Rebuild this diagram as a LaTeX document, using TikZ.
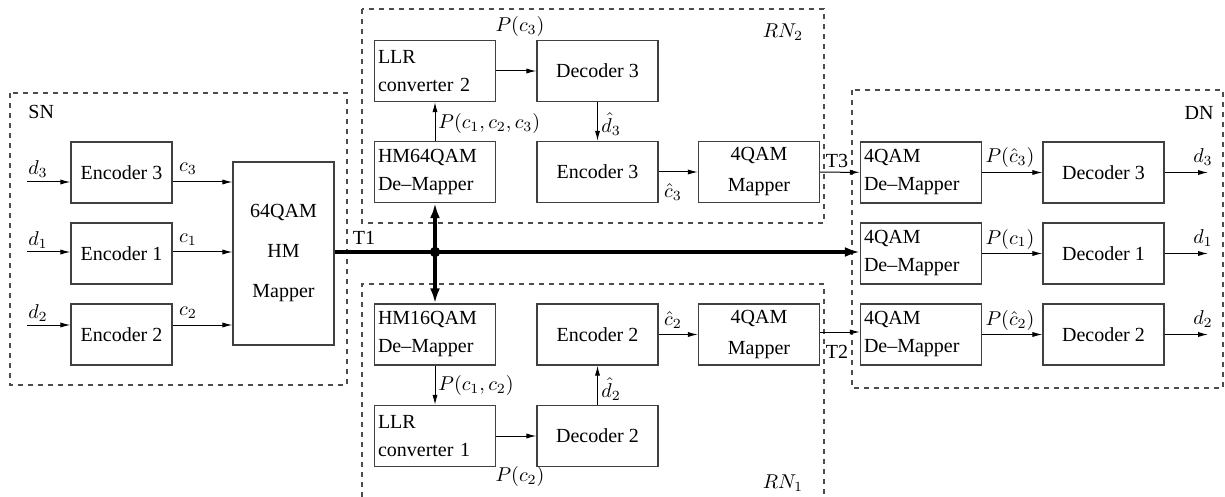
\documentclass[tikz,border=0pt]{standalone}
\usepackage[no-math]{fontspec}
\setmainfont{Liberation Serif}
\usetikzlibrary{arrows.meta}
\begin{document}
\begin{tikzpicture}[x=0.5pt,y=-0.5pt,
 box/.style={draw=black!75, line width=0.7pt, minimum width=60.5pt, minimum height=30.5pt, inner sep=0pt, font=\rmfamily\fontsize{10}{14}\selectfont},
 lbox/.style={box, align=left, text width=57pt},
 cbox/.style={box, align=center},
 encbox/.style={cbox, minimum width=50.5pt},
 mapbox/.style={cbox, font=\rmfamily\fontsize{10}{15.5}\selectfont},
 region/.style={draw=black!70, dash pattern=on 2.5pt off 2.5pt, line width=0.55pt},
 sig/.style={-{Latex[length=5pt,width=2.6pt]}, line width=0.5pt},
 main/.style={line width=1.6pt},
 mainarr/.style={main, -{Latex[length=7.5pt,width=5pt]}},
 lab/.style={font=\rmfamily\fontsize{10}{12}\selectfont, inner sep=0.5pt},
]
\useasboundingbox (0,0) rectangle (1225,497);

% ---------- SN ----------
\draw[region] (10,93) rectangle (347,385);
\node[lab, anchor=west] (snlab) at (27,112) {SN};
\node[encbox] (enc3) at (121.5,172.5) {Encoder 3};
\node[encbox] (enc1) at (121.5,253.5) {Encoder 1};
\node[encbox] (enc2) at (121.5,334.5) {Encoder 2};
\node[cbox, minimum width=50.5pt, minimum height=91.5pt, font=\rmfamily\fontsize{10}{20}\selectfont] (map64) at (283.5,253.5) {64QAM\\HM\\Mapper};
\coordinate (d3in) at (27,182);
\coordinate (d1in) at (27,252);
\coordinate (d2in) at (27,325);
\draw[sig] (d3in) -- (d3in -| enc3.west);
\draw[sig] (d1in) -- (d1in -| enc1.west);
\draw[sig] (d2in) -- (d2in -| enc2.west);
\draw[sig] (enc3.east |- d3in) -- (map64.west |- d3in);
\draw[sig] (enc1.east |- d1in) -- (map64.west |- d1in);
\draw[sig] (enc2.east |- d2in) -- (map64.west |- d2in);
\node[lab] (ld3) at (38,169) {$d_3$};
\node[lab] (ld1) at (38,240) {$d_1$};
\node[lab] (ld2) at (38,313) {$d_2$};
\node[lab] (lc3) at (188,169) {$c_3$};
\node[lab] (lc1) at (188,240) {$c_1$};
\node[lab] (lc2) at (188,313) {$c_2$};

% ---------- RN2 ----------
\draw[region] (362,9) rectangle (824,223);
\node[lab] (rn2lab) at (783,32) {$RN_2$};
\node[lbox] (llr2) at (435,71) {LLR\\converter 2};
\node[cbox] (dec3) at (597.5,71) {Decoder 3};
\node[lbox] (hm64) at (435,172) {HM64QAM\\De\textendash Mapper};
\node[cbox] (enc3r) at (597.5,172) {Encoder 3};
\node[mapbox] (map4a) at (759,172) {4QAM\\Mapper};
\draw[sig] (llr2) -- (dec3);
\draw[sig] (hm64) -- (llr2);
\draw[sig] (dec3) -- (enc3r);
\draw[sig] (enc3r) -- (map4a);
\node[lab] (lpc3) at (520,27) {$P(c_3)$};
\node[lab, anchor=west] (lpc123) at (437,124) {$P(c_1,c_2,c_3)$};
\node[lab, anchor=west] (ldh3) at (600,124) {$\hat{d}_3$};
\node[lab] (lch3) at (673,192) {$\hat{c}_3$};

% ---------- RN1 ----------
\draw[region] (362,497) |- (824,284) -- (824,497);
\node[lab] (rn1lab) at (783,483) {$RN_1$};
\node[lbox] (hm16) at (435,334.5) {HM16QAM\\De\textendash Mapper};
\node[lbox] (llr1) at (435,436) {LLR\\converter 1};
\node[cbox] (enc2r) at (597.5,334.5) {Encoder 2};
\node[cbox] (dec2r) at (597.5,436) {Decoder 2};
\node[mapbox] (map4b) at (759,334.5) {4QAM\\Mapper};
\draw[sig] (hm16) -- (llr1);
\draw[sig] (llr1) -- (dec2r);
\draw[sig] (dec2r) -- (enc2r);
\draw[sig] (enc2r) -- (map4b);
\node[lab, anchor=west] (lpc12) at (437,385) {$P(c_1,c_2)$};
\node[lab] (lpc2) at (520,476) {$P(c_2)$};
\node[lab, anchor=west] (ldh2) at (600,389) {$\hat{d}_2$};
\node[lab] (lch2) at (673,320) {$\hat{c}_2$};

% ---------- DN ----------
\draw[region] (852,90) rectangle (1223,388);
\node[lab] (dnlab) at (1199,113) {DN};
\node[lbox] (dm3) at (921,172.5) {4QAM\\De\textendash Mapper};
\node[lbox] (dm1) at (921,253.5) {4QAM\\De\textendash Mapper};
\node[lbox] (dm2) at (921,334.5) {4QAM\\De\textendash Mapper};
\node[cbox] (dc3) at (1103.5,172.5) {Decoder 3};
\node[cbox] (dc1) at (1103.5,253.5) {Decoder 1};
\node[cbox] (dc2) at (1103.5,334.5) {Decoder 2};
\draw[sig] (dm3) -- (dc3);
\draw[sig] (dm1) -- (dc1);
\draw[sig] (dm2) -- (dc2);
\coordinate (o3) at (1208,172.5);
\coordinate (o1) at (1208,253.5);
\coordinate (o2) at (1208,334.5);
\draw[sig] (dc3) -- (o3);
\draw[sig] (dc1) -- (o1);
\draw[sig] (dc2) -- (o2);
\node[lab] (lpch3) at (1010,158) {$P(\hat{c}_3)$};
\node[lab] (lpc1) at (1010,239) {$P(c_1)$};
\node[lab] (lpch2) at (1010,320) {$P(\hat{c}_2)$};
\node[lab] (lo3) at (1203,157) {$d_3$};
\node[lab] (lo1) at (1203,238) {$d_1$};
\node[lab] (lo2) at (1203,319) {$d_2$};

% ---------- links ----------
\coordinate (t2y) at (0,332);
\draw[sig] (map4a) -- (dm3);
\draw[sig] (map4b.east |- t2y) -- (dm2.west |- t2y);
\node[lab] (lt3) at (837,161) {T3};
\node[lab] (lt2) at (837,352) {T2};

\coordinate (junc) at (435,252);
\draw[main] (map64.east |- junc) -- (junc);
\draw[mainarr] (junc) -- (junc -| dm1.west);
\draw[mainarr] (junc) -- (hm64.south);
\draw[mainarr] (junc) -- (hm16.north);
\fill (junc) circle[radius=2.6pt];
\node[lab] (lt1) at (364,238) {T1};
\end{tikzpicture}
\end{document}
